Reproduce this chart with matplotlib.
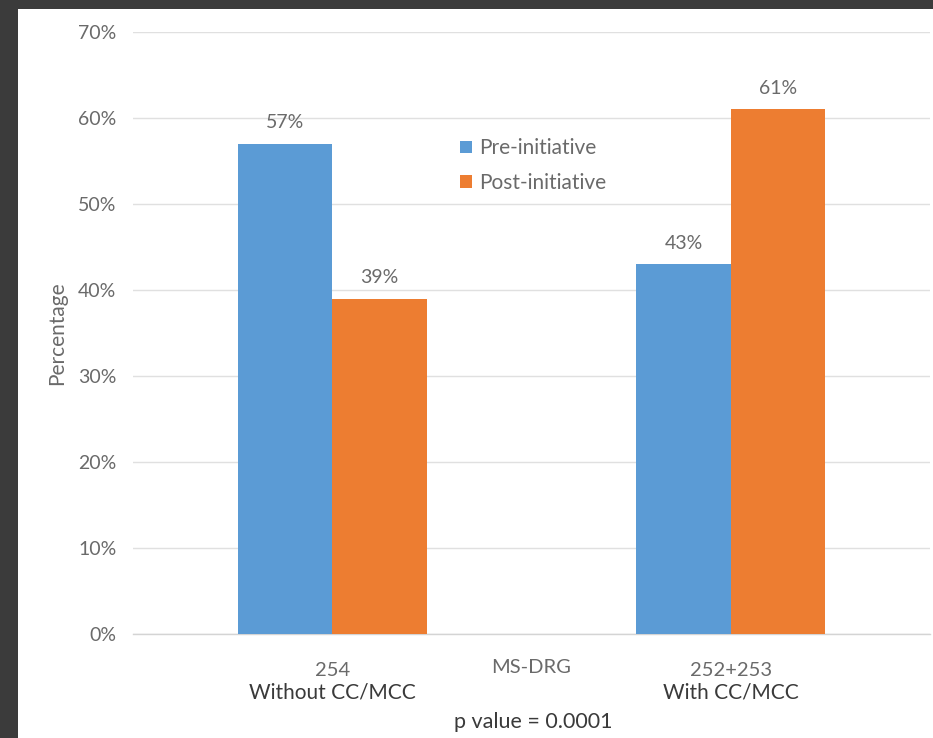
import matplotlib

matplotlib.use("Agg")
import matplotlib.pyplot as plt
from matplotlib.patches import Patch, Rectangle

plt.rcParams["font.family"] = ["Lato", "DejaVu Sans"]

CATEGORIES = ["254", "252+253"]
CATEGORY_NOTES = ["Without CC/MCC", "With CC/MCC"]
SERIES = ["Pre-initiative", "Post-initiative"]
PRE_VALUES = [57, 43]
POST_VALUES = [39, 61]
Y_TICKS = [0, 10, 20, 30, 40, 50, 60, 70]

BLUE = "#5B9BD5"
ORANGE = "#ED7D31"
TEXT_GRAY = "#6a6a6a"
TEXT_DARK = "#3a3a3a"

fig = plt.figure(figsize=(9.33, 7.38), dpi=100, facecolor="#3b3b3b")
# white panel inside the dark frame
fig.patches.append(
    Rectangle((18 / 933, 0.0), 1.0, 729 / 738, transform=fig.transFigure,
              facecolor="white", edgecolor="none", zorder=-5)
)

ax = fig.add_axes([133 / 933, 104 / 738, 797 / 933, 602 / 738])
ax.set_facecolor("white")

width = 0.2375
xs = list(range(len(CATEGORIES)))
pre_x = [x - width / 2 for x in xs]
post_x = [x + width / 2 for x in xs]
ax.bar(pre_x, PRE_VALUES, width, color=BLUE, zorder=3)
ax.bar(post_x, POST_VALUES, width, color=ORANGE, zorder=3)

for x, v in list(zip(pre_x, PRE_VALUES)) + list(zip(post_x, POST_VALUES)):
    ax.annotate(f"{v}%", (x, v), xytext=(0, 15), textcoords="offset points",
                ha="center", va="center", fontsize=14, color=TEXT_GRAY)

ax.set_xlim(-0.5, 1.5)
ax.set_ylim(0, 70)
ax.set_yticks(Y_TICKS)
ax.set_yticklabels([f"{t}%" for t in Y_TICKS], fontsize=14, color=TEXT_GRAY)
ax.tick_params(axis="y", length=0, pad=12)
ax.set_xticks([])
ax.grid(True, axis="y", color="#e0e0e0", linewidth=1.0, zorder=0)
for side in ["top", "right", "left"]:
    ax.spines[side].set_visible(False)
ax.spines["bottom"].set_color("#d4d4d4")
ax.spines["bottom"].set_linewidth(1.0)

ax.set_ylabel("Percentage", fontsize=15, color=TEXT_GRAY, labelpad=8)

trans = ax.get_xaxis_transform()
for x, cat, note in zip(xs, CATEGORIES, CATEGORY_NOTES):
    ax.text(x, -0.06, cat, transform=trans, ha="center", va="center",
            fontsize=14.5, color=TEXT_GRAY)
    ax.text(x, -0.098, note, transform=trans, ha="center", va="center",
            fontsize=15, color=TEXT_DARK)
ax.text(0.5, -0.055, "MS-DRG", transform=trans, ha="center", va="center",
        fontsize=14.5, color=TEXT_GRAY)
ax.text(0.504, -0.146, "p value = 0.0001", transform=trans, ha="center",
        va="center", fontsize=15.5, color=TEXT_DARK, clip_on=False)

handles = [Patch(facecolor=BLUE), Patch(facecolor=ORANGE)]
leg = ax.legend(handles, SERIES, loc="upper left", bbox_to_anchor=(0.4, 0.837),
                frameon=False, fontsize=15, handlelength=0.55, handleheight=0.55,
                handletextpad=0.35, labelspacing=0.7, borderaxespad=0.0)
for t in leg.get_texts():
    t.set_color(TEXT_GRAY)

fig.savefig("out.png", dpi=100, facecolor=fig.get_facecolor())
